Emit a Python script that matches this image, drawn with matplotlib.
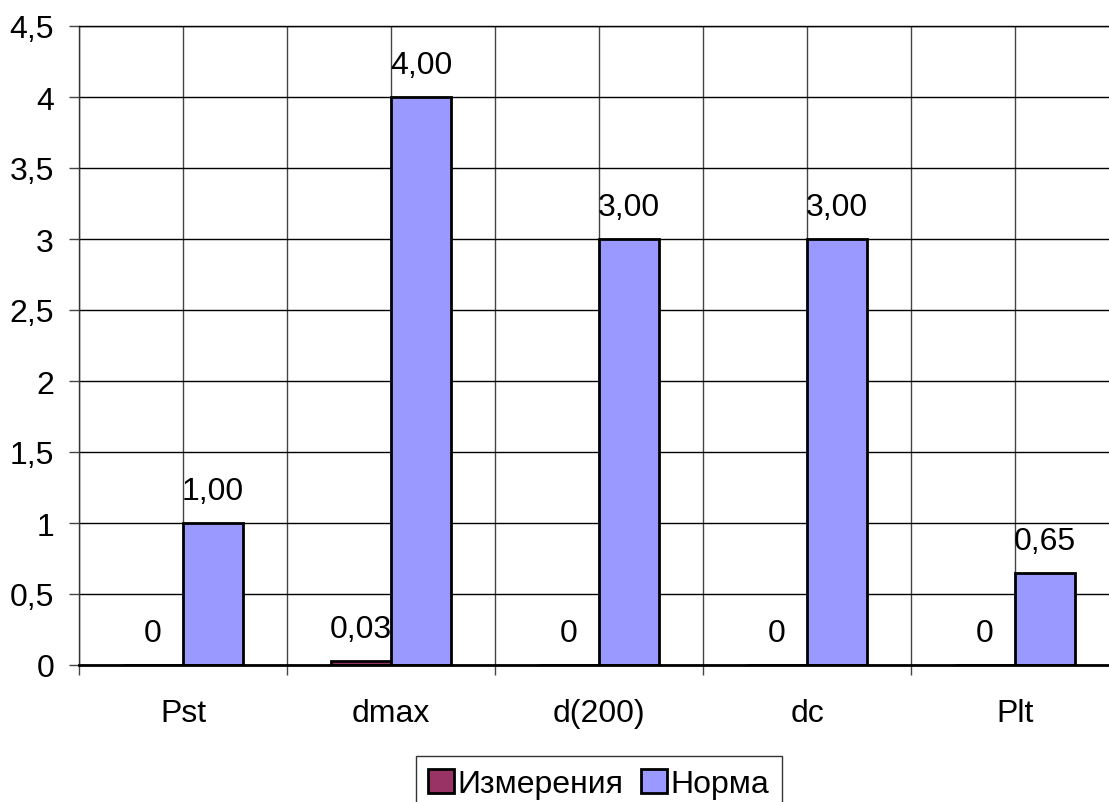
import numpy as np
import matplotlib
matplotlib.use("Agg")
import matplotlib.pyplot as plt
from matplotlib.ticker import FixedLocator, FuncFormatter

plt.rcParams['font.family'] = ['Liberation Sans', 'DejaVu Sans']

categories = ["Pst", "dmax", "d(200)", "dc", "Plt"]
measured = [0, 0.03, 0, 0, 0]
norm = [1.00, 4.00, 3.00, 3.00, 0.65]
series_names = ["Измерения", "Норма"]
colors = ["#993366", "#9999FF"]

FS = 23

W, H = 1109, 803
fig = plt.figure(figsize=(W / 100, H / 100), dpi=100)
# plot area runs past the right edge of the canvas
ax = fig.add_axes([79 / W, 137 / H, 1040 / W, 639 / H])

x = np.arange(len(categories))
bw = 0.288
b1 = ax.bar(x - bw / 2, measured, bw, color=colors[0], edgecolor="black",
            linewidth=2, label=series_names[0], zorder=3)
b2 = ax.bar(x + bw / 2, norm, bw, color=colors[1], edgecolor="black",
            linewidth=2, label=series_names[1], zorder=3)

def fmt_general(v):
    s = f"{v:g}"
    return s.replace(".", ",")

for rect, v in zip(b1, measured):
    ax.annotate(fmt_general(v), (rect.get_x() + rect.get_width() / 2, v),
                xytext=(0, 23), textcoords="offset points",
                ha="center", va="center", fontsize=FS, zorder=4)
for rect, v in zip(b2, norm):
    ax.annotate(f"{v:.2f}".replace(".", ","), (rect.get_x() + rect.get_width() / 2, v),
                xytext=(0, 23), textcoords="offset points",
                ha="center", va="center", fontsize=FS, zorder=4)

ax.set_xlim(-0.5, 4.5)
ax.set_ylim(0, 4.5)

yt = np.arange(0, 4.51, 0.5)
ax.set_yticks(yt)
ax.yaxis.set_major_formatter(FuncFormatter(lambda v, p: fmt_general(round(v, 1))))
ax.tick_params(axis="y", length=7, width=1, pad=11, labelsize=FS, color="#444444")

ax.set_xticks(x)
ax.set_xticklabels(categories)
ax.xaxis.set_minor_locator(FixedLocator(np.arange(-0.5, 5, 1.0)))
ax.tick_params(axis="x", which="major", length=0, pad=24, labelsize=FS)
ax.tick_params(axis="x", which="minor", length=7, width=1, color="#444444")

ax.grid(axis="y", color="black", linewidth=1.0, zorder=1)
ax.grid(axis="x", which="both", color="#444444", linewidth=1.0, zorder=1)
ax.set_axisbelow(True)

ax.spines["right"].set_visible(False)
ax.spines["top"].set_linewidth(1.0)
ax.spines["left"].set_linewidth(1.0)
ax.spines["left"].set_color("#333333")
ax.spines["bottom"].set_linewidth(2.0)
ax.spines["bottom"].set_zorder(5)

leg = fig.legend(loc="center", bbox_to_anchor=(599 / W, 1 - 785 / H),
                 ncol=2, fontsize=FS, frameon=True, fancybox=False,
                 edgecolor="black", handlelength=0.8, handleheight=0.8,
                 handletextpad=0.12, columnspacing=0.55, borderpad=0.4,
                 borderaxespad=0)
leg.get_frame().set_linewidth(1.0)
for h in leg.legend_handles:
    h.set_linewidth(2)

fig.savefig("out.png", dpi=100)
